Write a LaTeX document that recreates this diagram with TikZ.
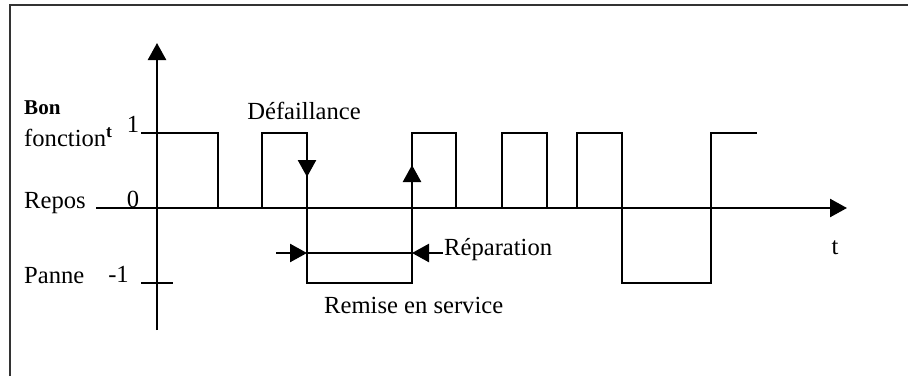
\documentclass[tikz,border=0pt]{standalone}
\usepackage{fontspec}
\setmainfont{Liberation Serif}
\usetikzlibrary{arrows.meta}

\begin{document}
\begin{tikzpicture}[x=0.02cm,y=-0.02cm,line width=1.4pt,
  tip/.style={-{Triangle[width=0.36cm,length=0.34cm]}},
  lbl/.style={font=\fontsize{14}{16}\selectfont,inner sep=0pt}]
\useasboundingbox (0,0) rectangle (908,376);
\pgfmathsetmacro\yone{133};
\pgfmathsetmacro\yzero{208};
\pgfmathsetmacro\ymone{283};
\draw[line width=1.5pt,black!80] (10,376) -- (10,5) -- (908,5);
% axes and ticks
\draw[tip] (157,330) -- (157,43);
\draw[tip] (96,\yzero) -- (847,\yzero);
\draw (141,\yone) -- (157,\yone);
\draw (141,\ymone) -- (173,\ymone);
% states
\node[lbl,font=\fontsize{12}{14}\selectfont\bfseries,anchor=base west] (bon) at (23,114) {Bon};
\node[lbl,anchor=base west] (fonct) at (23,146) {fonction\raisebox{5pt}{\fontsize{10}{12}\selectfont\bfseries t}};
\node[lbl,anchor=base west] (repos) at (23,208) {Repos};
\node[lbl,anchor=base west] (panne) at (23,283) {Panne};
\node[lbl,anchor=base] (un) at (133,132) {1};
\node[lbl,anchor=base] (zero) at (133,207) {0};
\node[lbl,anchor=base east] (moinsun) at (130,282) {-1};
\node[lbl,anchor=base] (t) at (835,254) {t};
% signal
\coordinate (fail) at (307,\yone);
\coordinate (back) at (412,\ymone);
\draw (157,\yone) -| (218,\yzero) -| (262,\yone) -| (fail) |- (back) |- (456,\yone)
  -- (456,\yzero) -| (502,\yone) -| (547,\yzero) -| (577,\yone) -| (622,\ymone)
  -| (711,\yone) -- (757,\yone);
\draw[tip] (fail) -- (307,177);
\draw[tip] (back) -- (412,165);
% failure and repair labels
\node[lbl,anchor=base] (defa) at (304,119) {Défaillance};
\node[lbl,anchor=base west] (repa) at (443,255) {Réparation};
\node[lbl,anchor=base west] (remise) at (323,313) {Remise en service};
\coordinate (rl) at (276,253);
\draw[tip] (rl) -- (307,253);
\draw (307,253) -- (412,253);
\draw[tip] (repa.west |- rl) -- (412,253);
\end{tikzpicture}
\end{document}
